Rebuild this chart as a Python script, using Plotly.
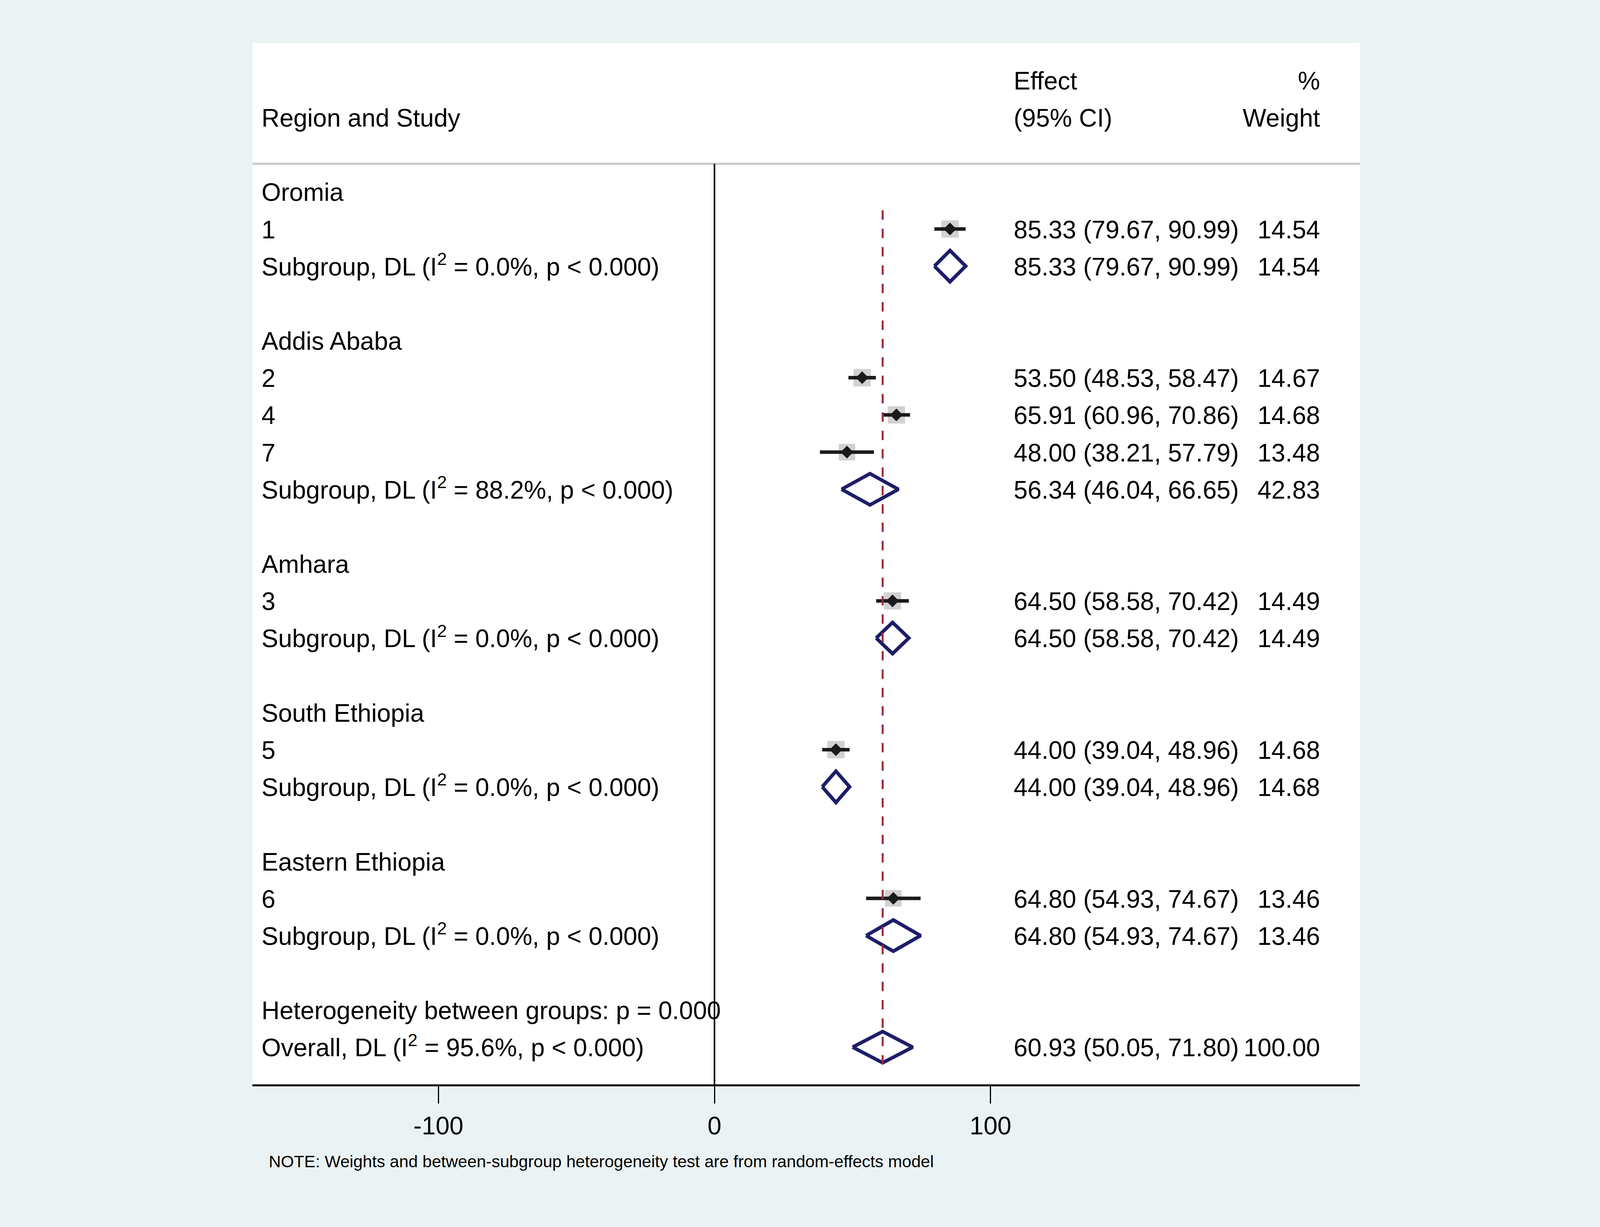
import math
import plotly.graph_objects as go

# study level estimates, in the order they appear in the plot
regions = ["Oromia", "Addis Ababa", "Amhara", "South Ethiopia", "Eastern Ethiopia"]
study_ids = ["1", "2", "4", "7", "3", "5", "6"]
study_region = ["Oromia", "Addis Ababa", "Addis Ababa", "Addis Ababa",
                "Amhara", "South Ethiopia", "Eastern Ethiopia"]
study_es = [85.33, 53.50, 65.91, 48.00, 64.50, 44.00, 64.80]
study_lci = [79.67, 48.53, 60.96, 38.21, 58.58, 39.04, 54.93]
study_uci = [90.99, 58.47, 70.86, 57.79, 70.42, 48.96, 74.67]
study_wt = [14.54, 14.67, 14.68, 13.48, 14.49, 14.68, 13.46]

# pooled estimates per region (DerSimonian-Laird)
sub_es = [85.33, 56.34, 64.50, 44.00, 64.80]
sub_lci = [79.67, 46.04, 58.58, 39.04, 54.93]
sub_uci = [90.99, 66.65, 70.42, 48.96, 74.67]
sub_wt = [14.54, 42.83, 14.49, 14.68, 13.46]
sub_i2 = [0.0, 88.2, 0.0, 0.0, 0.0]

overall_es = 60.93
overall_lci = 50.05
overall_uci = 71.80
overall_wt = 100.00
overall_i2 = 95.6
het_p = "0.000"

x_ticks = [-100, 0, 100]
x_ticklabels = ["-100", "0", "100"]

FONT = "Liberation Sans, Arial, Helvetica, sans-serif"
NAVY = "#1E1D6A"
MAROON = "#9E2B3B"

# ---- build row layout (row 0 = first region header, rows grow downward)
left_text, left_y = [], []
eff_text, eff_y = [], []
wt_text, wt_y = [], []
st_x, st_y, st_lo, st_hi, st_w = [], [], [], [], []
dia_x, dia_y = [], []
H = 0.42     # half height of pooled diamonds, in rows
TXT = 0.08   # small nudge so the cap height sits on the row centre


def add_diamond(es, lo, hi, r):
    dia_x.extend([lo, es, hi, es, lo, None])
    dia_y.extend([r, r - H, r, r + H, r, None])


row = 0
for g, reg in enumerate(regions):
    left_text.append(reg)
    left_y.append(row + TXT)
    row += 1
    for i, sid in enumerate(study_ids):
        if study_region[i] != reg:
            continue
        left_text.append(sid)
        left_y.append(row + TXT)
        eff_text.append(f"{study_es[i]:.2f} ({study_lci[i]:.2f}, {study_uci[i]:.2f})")
        eff_y.append(row + TXT)
        wt_text.append(f"{study_wt[i]:.2f}")
        wt_y.append(row + TXT)
        st_x.append(study_es[i])
        st_y.append(row)
        st_lo.append(study_es[i] - study_lci[i])
        st_hi.append(study_uci[i] - study_es[i])
        st_w.append(study_wt[i])
        row += 1
    left_text.append(f"Subgroup, DL (I<sup>2</sup> = {sub_i2[g]:.1f}%, p &lt; 0.000)")
    left_y.append(row + TXT)
    eff_text.append(f"{sub_es[g]:.2f} ({sub_lci[g]:.2f}, {sub_uci[g]:.2f})")
    eff_y.append(row + TXT)
    wt_text.append(f"{sub_wt[g]:.2f}")
    wt_y.append(row + TXT)
    add_diamond(sub_es[g], sub_lci[g], sub_uci[g], row)
    row += 2

left_text.append(f"Heterogeneity between groups: p = {het_p}")
left_y.append(row + TXT)
row += 1
left_text.append(f"Overall, DL (I<sup>2</sup> = {overall_i2:.1f}%, p &lt; 0.000)")
left_y.append(row + TXT)
eff_text.append(f"{overall_es:.2f} ({overall_lci:.2f}, {overall_uci:.2f})")
eff_y.append(row + TXT)
wt_text.append(f"{overall_wt:.2f}")
wt_y.append(row + TXT)
add_diamond(overall_es, overall_lci, overall_uci, row)
last_row = row

# headers
left_text.append("Region and Study")
left_y.append(-2 + TXT)
eff_text = ["Effect", "(95% CI)"] + eff_text
eff_y = [-3 + TXT, -2 + TXT] + eff_y
wt_text = ["%", "Weight"] + wt_text
wt_y = [-3 + TXT, -2 + TXT] + wt_y

X_LEFT = -164.1
X_EFF = 108.4
X_WT = 219.4

fig = go.Figure()

# weight boxes
fig.add_trace(go.Scatter(
    x=st_x, y=st_y, mode="markers",
    marker=dict(symbol="square", color="#BDBDBD",
                size=[44 * math.sqrt(w / 14.54) for w in st_w],
                line=dict(width=0)),
    hoverinfo="skip", showlegend=False
))

# study point + CI
fig.add_trace(go.Scatter(
    x=st_x, y=st_y, mode="markers",
    marker=dict(symbol="diamond", color="#1A1A1A", size=25, line=dict(width=0)),
    error_x=dict(type="data", symmetric=False, array=st_hi, arrayminus=st_lo,
                 color="#1A1A1A", thickness=9, width=0),
    hovertemplate="%{x:.2f}<extra></extra>", showlegend=False
))

# pooled diamonds
fig.add_trace(go.Scatter(
    x=dia_x, y=dia_y, mode="lines",
    line=dict(color=NAVY, width=9),
    hoverinfo="skip", showlegend=False
))

text_font = dict(family=FONT, size=64, color="black")
fig.add_trace(go.Scatter(
    x=[X_LEFT] * len(left_text), y=left_y, mode="text", text=left_text,
    textposition="middle right", textfont=text_font,
    cliponaxis=False, hoverinfo="skip", showlegend=False
))
fig.add_trace(go.Scatter(
    x=[X_EFF] * len(eff_text), y=eff_y, mode="text", text=eff_text,
    textposition="middle right", textfont=text_font,
    cliponaxis=False, hoverinfo="skip", showlegend=False
))
fig.add_trace(go.Scatter(
    x=[X_WT] * len(wt_text), y=wt_y, mode="text", text=wt_text,
    textposition="middle left", textfont=text_font,
    cliponaxis=False, hoverinfo="skip", showlegend=False
))

# plot area placed as fractions of the page so it follows the window size
W, H_PX = 4317.0, 3140.0
x_dom = [681 / W, 3669 / W]
y_dom = [365 / H_PX, 1 - 110 / H_PX]

# header separator, null line, overall effect line
fig.add_shape(type="line", xref="paper", x0=x_dom[0], x1=x_dom[1],
              yref="y", y0=-0.75, y1=-0.75,
              line=dict(color="#CBCBCB", width=6), layer="above")
fig.add_shape(type="line", xref="x", x0=0, x1=0, yref="y", y0=-0.75, y1=last_row + 1,
              line=dict(color="black", width=4), layer="above")
fig.add_shape(type="line", xref="x", x0=overall_es, x1=overall_es, yref="y",
              y0=0.5, y1=last_row + 0.5,
              line=dict(color=MAROON, width=5, dash="24px,23px"), layer="above")

fig.add_annotation(
    x=723 / W, y=1 - 2972 / H_PX, xref="paper", yref="paper",
    xanchor="left", yanchor="middle",
    text="NOTE: Weights and between-subgroup heterogeneity test are from random-effects model",
    showarrow=False, font=dict(family=FONT, size=43, color="black")
)

fig.update_layout(
    autosize=True,
    paper_bgcolor="#EAF2F3", plot_bgcolor="white",
    margin=dict(l=0, r=0, t=0, b=0, pad=0),
    showlegend=False,
    font=dict(family=FONT, color="black"),
)
fig.update_xaxes(
    domain=x_dom,
    range=[-167.4, 233.8], showgrid=False, zeroline=False,
    showline=True, linecolor="black", linewidth=5,
    ticks="outside", ticklen=44, tickwidth=3, tickcolor="black",
    tickvals=x_ticks, ticktext=x_ticklabels,
    tickfont=dict(family=FONT, size=64, color="black"),
    ticklabelstandoff=2,
)
fig.update_yaxes(domain=y_dom, range=[last_row + 1, -4], visible=False)

fit_page = (
    "document.body.style.margin='0';"
    "document.documentElement.style.overflow='hidden';"
    "document.body.style.overflow='hidden';"
    "Plotly.Plots.resize(document.getElementById('{plot_id}'));"
)
fig.write_html("out.html", default_width="100vw", default_height="100vh",
               config={"displayModeBar": False}, post_script=fit_page)
